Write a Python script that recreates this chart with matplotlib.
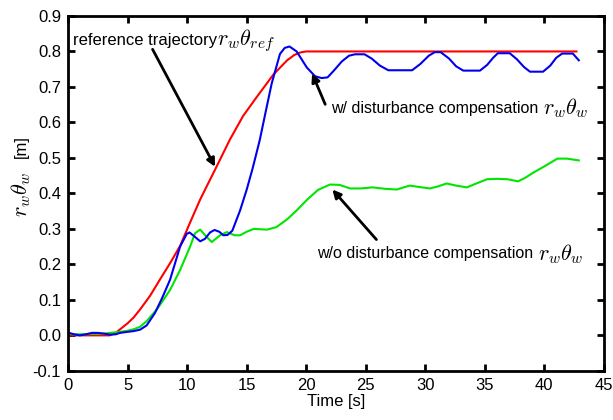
import numpy as np
import matplotlib
matplotlib.use('Agg')
import matplotlib.pyplot as plt

plt.rcParams['font.family'] = ['Liberation Sans', 'DejaVu Sans']
plt.rcParams['mathtext.fontset'] = 'cm'

# reference trajectory r_w theta_ref
t_ref = [0, 1, 2, 3, 3.5, 4.0, 4.37, 5.0, 5.5, 6.05, 6.9, 7.73, 8.6, 9.41, 10.25, 11.1,
         11.93, 12.35, 13.6, 14.7, 15.9, 17.25, 18.4, 19.0, 19.5, 20.0, 42.7]
y_ref = [0, 0, 0, 0, 0.0, 0.007, 0.017, 0.034, 0.05, 0.073, 0.112, 0.158, 0.205, 0.252, 0.318, 0.383,
         0.439, 0.467, 0.552, 0.618, 0.674, 0.735, 0.775, 0.79, 0.797, 0.8, 0.8]

# with disturbance compensation
t_w = [0, 0.5, 1.0, 1.5, 2.0, 2.5, 3.0, 3.5, 4.0, 4.37, 5.0, 5.5, 6.05, 6.6, 7.3, 7.9, 8.57,
       9.41, 9.97, 10.2, 10.5, 11.1, 11.5, 11.93, 12.3, 12.7, 13.05, 13.4, 13.8, 14.45,
       15.0, 15.5, 16.1, 16.6, 17.1, 17.8, 18.2, 18.6, 19.2, 20.05, 20.75, 21.3, 21.8,
       22.3, 23.0, 23.6, 24.1, 24.9, 25.5, 26.2, 26.9, 28.9, 29.6, 30.3, 30.8, 31.3,
       32.0, 32.6, 33.2, 34.6, 35.2, 35.7, 36.1, 37.1, 37.7, 38.3, 38.8, 39.9, 40.5,
       41.0, 41.5, 42.4, 42.9]
y_w = [0.008, 0.003, 0.0, 0.003, 0.007, 0.007, 0.005, 0.002, 0.003, 0.007, 0.01, 0.012, 0.016,
       0.028, 0.063, 0.105, 0.157, 0.25, 0.286, 0.29, 0.282, 0.265, 0.272, 0.29, 0.297, 0.292,
       0.282, 0.283, 0.295, 0.352, 0.41, 0.47, 0.55, 0.63, 0.709, 0.793, 0.81, 0.814, 0.80,
       0.755, 0.73, 0.725, 0.727, 0.745, 0.772, 0.788, 0.792, 0.792, 0.78, 0.76, 0.747, 0.747,
       0.765, 0.788, 0.798, 0.798, 0.78, 0.758, 0.746, 0.746, 0.762, 0.782, 0.795, 0.795,
       0.778, 0.756, 0.743, 0.743, 0.76, 0.782, 0.794, 0.794, 0.775]

# without disturbance compensation
t_wo = [0, 0.5, 1.0, 2.0, 3.0, 4.37, 5.0, 5.5, 6.05, 6.6, 7.3, 7.73, 8.57, 9.41, 10.25,
        10.67, 11.1, 11.65, 12.07, 12.77, 13.33, 14.0, 14.45, 15.0, 15.6, 16.7, 17.5, 18.4,
        19.2, 20.1, 21.0, 22.0, 22.8, 23.7, 24.6, 25.6, 26.6, 27.6, 28.7, 29.5, 30.4,
        31.1, 31.8, 32.6, 33.5, 34.3, 35.2, 36.0, 36.9, 37.8, 38.4, 39.1, 40.1, 41.1,
        41.9, 42.9]
y_wo = [0.005, 0.003, 0.003, 0.004, 0.005, 0.01, 0.013, 0.017, 0.024, 0.04, 0.067, 0.086,
        0.128, 0.184, 0.25, 0.288, 0.298, 0.277, 0.263, 0.282, 0.291, 0.282, 0.282, 0.292,
        0.30, 0.298, 0.305, 0.327, 0.352, 0.383, 0.41, 0.425, 0.424, 0.414, 0.414, 0.417,
        0.413, 0.411, 0.422, 0.418, 0.414, 0.42, 0.428, 0.422, 0.417, 0.428, 0.44, 0.441,
        0.44, 0.434, 0.444, 0.459, 0.478, 0.498, 0.498, 0.493]

fig = plt.figure(figsize=(6.13, 4.2), dpi=100)
ax = fig.add_axes([0.111, 0.117, 0.874, 0.845])

ax.plot(t_ref, y_ref, color='#ff0000', lw=1.5)
ax.plot(t_wo, y_wo, color='#00e600', lw=1.5)
ax.plot(t_w, y_w, color='#0000ee', lw=1.5)

ax.set_xlim(0, 45)
ax.set_ylim(-0.1, 0.9)
ax.set_xticks(np.arange(0, 46, 5))
ax.set_yticks(np.arange(-0.1, 0.91, 0.1))
ax.set_yticklabels(['%.1f' % v for v in np.arange(-0.1, 0.91, 0.1)])
ax.tick_params(direction='in', length=5, width=2, labelsize=12,
               top=True, right=True, pad=5)
for s in ax.spines.values():
    s.set_linewidth(2)

ax.set_xlabel('Time [s]', fontsize=12, labelpad=1)
ax.text(-0.088, 0.497, r'$r_w\theta_w$', transform=ax.transAxes, rotation=90,
        fontsize=16, ha='center', va='center')
ax.text(-0.088, 0.632, '[m]', transform=ax.transAxes, rotation=90,
        fontsize=12, ha='center', va='center')

arrow = dict(arrowstyle='-|>', color='k', lw=2, mutation_scale=12, shrinkA=0, shrinkB=0)

t1 = ax.text(0.4, 0.832, 'reference trajectory', fontsize=12, va='center', ha='left')
ax.annotate(r'$r_w\theta_{ref}$', xy=(1, 0.5), xycoords=t1, fontsize=16,
            va='center', ha='left')
ax.annotate('', xy=(12.35, 0.475), xytext=(7.1, 0.806), arrowprops=arrow)

t2 = ax.text(22.1, 0.64, 'w/ disturbance compensation ', fontsize=11.5, va='center', ha='left')
ax.annotate(r'$r_w\theta_w$', xy=(1, 0.5), xycoords=t2, fontsize=16,
            va='center', ha='left')
ax.annotate('', xy=(20.5, 0.738), xytext=(21.6, 0.651), arrowprops=arrow)

t3 = ax.text(20.95, 0.23, 'w/o disturbance compensation ', fontsize=11.5, va='center', ha='left')
ax.annotate(r'$r_w\theta_w$', xy=(1, 0.5), xycoords=t3, fontsize=16,
            va='center', ha='left')
ax.annotate('', xy=(22.2, 0.411), xytext=(25.9, 0.27), arrowprops=arrow)

fig.savefig('out.png', dpi=100)
